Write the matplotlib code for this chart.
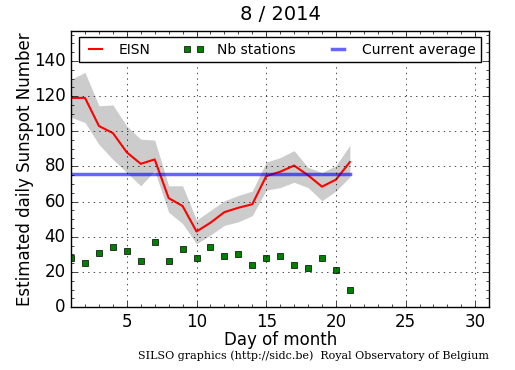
import matplotlib
matplotlib.use('Agg')
import matplotlib.pyplot as plt
import numpy as np

plt.style.use('classic')

days = list(range(1, 22))
eisn = [119, 119, 103, 99, 88, 81.5, 84, 62, 57.5, 43, 48, 54, 56.5, 58.5, 74.5, 77, 80.5, 75, 68.5, 72.5, 82.5]
upper = [129.5, 133.5, 114.5, 115, 103, 95.5, 95, 69, 69, 49.5, 55, 60.5, 63.5, 66, 82.5, 85, 89, 79.5, 76.5, 80.5, 92]
lower = [108, 105, 92.5, 84, 76.5, 69, 77.5, 54, 47.5, 36, 41, 46.5, 48.5, 52, 66.5, 68, 71, 68, 60.5, 66, 74]
stations = [28, 25, 31, 34, 32, 26, 37, 26, 33, 28, 34, 29, 30, 24, 28, 29, 24, 22, 28, 21, 10]
current_avg = 75.8

fig = plt.figure(figsize=(5.15, 3.7), dpi=100)
ax = fig.add_axes([0.138, 0.170, 0.812, 0.746])

ax.fill_between(days, lower, upper, color='#cccccc', linewidth=0)
ax.plot(days, eisn, 'r-', lw=1.5, label='EISN')
ax.plot(days, stations, 's', color='g', markeredgecolor='k', markersize=4, label='Nb stations')
ax.plot([days[0], days[-1]], [current_avg, current_avg], '-', color='b', alpha=0.6, lw=2.5, label='Current average')

ax.set_xlim(1, 31)
ax.set_ylim(0, 157)
ax.set_xticks([5, 10, 15, 20, 25, 30])
ax.set_yticks(np.arange(0, 141, 20))
ax.set_xticks(np.arange(1, 32, 1), minor=True)
ax.set_yticks(np.arange(0, 157, 5), minor=True)
ax.grid(True, color='k', linestyle=':')

ax.set_xlabel('Day of month', fontsize=12, labelpad=0)
ax.set_ylabel('Estimated daily Sunspot Number', fontsize=12, labelpad=0)
ax.set_title('8 / 2014', fontsize=14, y=1.015)

ax.legend(loc='upper center', ncol=3, fontsize=10, numpoints=2, borderaxespad=0.45,
          handlelength=1.5, handletextpad=0.95, columnspacing=2.3)

fig.text(0.608, 0.03, 'SILSO graphics (http://sidc.be)  Royal Observatory of Belgium',
         family='DejaVu Serif', fontsize=8, ha='center')

plt.savefig('out.png', dpi=100)
